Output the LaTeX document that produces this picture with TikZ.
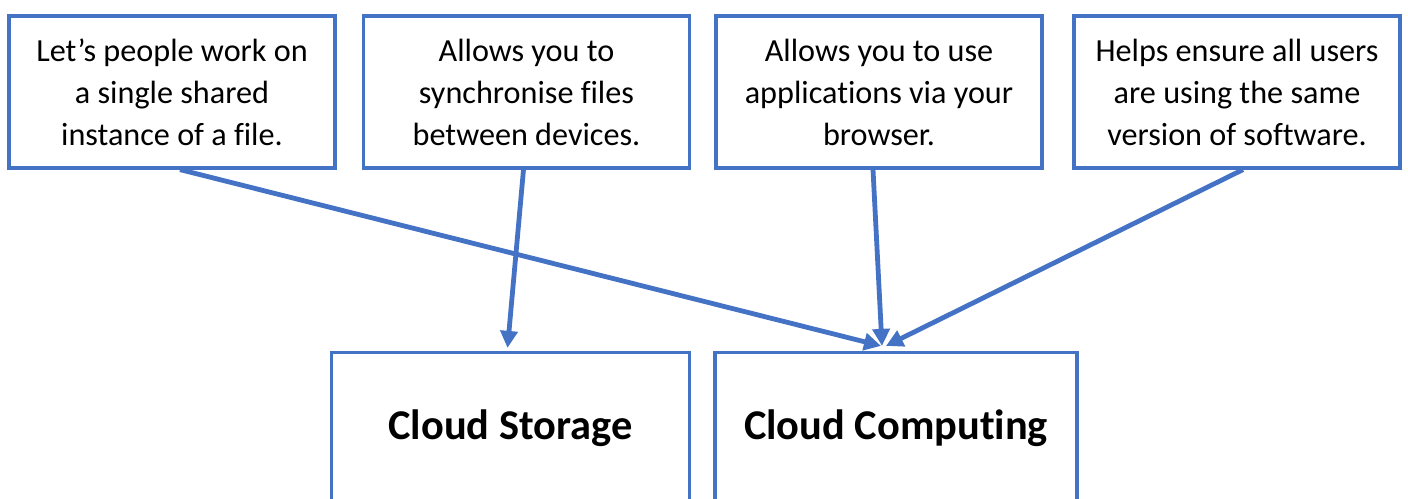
\documentclass[tikz,border=0pt]{standalone}
\usepackage{fontspec}
\setmainfont{Carlito}[Ligatures=NoCommon]
\usetikzlibrary{arrows.meta,calc}
\definecolor{boxblue}{HTML}{4472C4}
\tikzset{
  topbox/.style={draw=boxblue, line width=1.6pt, fill=white, inner sep=0pt,
    minimum width=163pt, minimum height=76pt, align=center,
    font=\fontsize{16.1}{21}\selectfont},
  botbox/.style={draw=boxblue, line width=1.6pt, fill=white, inner sep=0pt,
    minimum height=76pt, font=\fontsize{21.2}{25}\selectfont\bfseries},
  link/.style={draw=boxblue, line width=2.4pt,
    -{Triangle[length=8.5pt,width=8.5pt]}}
}
\begin{document}
\begin{tikzpicture}[x=0.5pt,y=-0.5pt]
\useasboundingbox (0,0) rectangle (1408,498);
\clip (0,0) rectangle (1408,498);
\fill[white] (0,0) rectangle (1408,498);
\node[topbox] (b1) at (172,92) {Let’s people work on\\a single shared\\instance of a file.};
\node[topbox] (b2) at (526.5,92) {Allows you to\\synchronise files\\between devices.};
\node[topbox] (b3) at (879,92) {Allows you to use\\applications via your\\browser.};
\node[topbox] (b4) at (1237,92) {Helps ensure all users\\are using the same\\version of software.};
\node[botbox, minimum width=179pt] (cs) at (510.5,428.5) {Cloud Storage};
\node[botbox, minimum width=181pt] (cc) at (896,428.5) {Cloud Computing};
\coordinate (t1) at ($(cc.north)+(-15,-5)$);
\coordinate (t3) at ($(cc.north)+(-14,-5)$);
\coordinate (t4) at ($(cc.north)+(-10,-5)$);
\draw[link] ($(b1.south)+(8,0)$) -- (t1);
\draw[link] ($(b2.south)+(-3,0)$) -- ($(cs.north)+(-3,-3)$);
\draw[link] ($(b3.south)+(-6,0)$) -- (t3);
\draw[link] ($(b4.south)+(6,0)$) -- (t4);
\end{tikzpicture}
\end{document}
